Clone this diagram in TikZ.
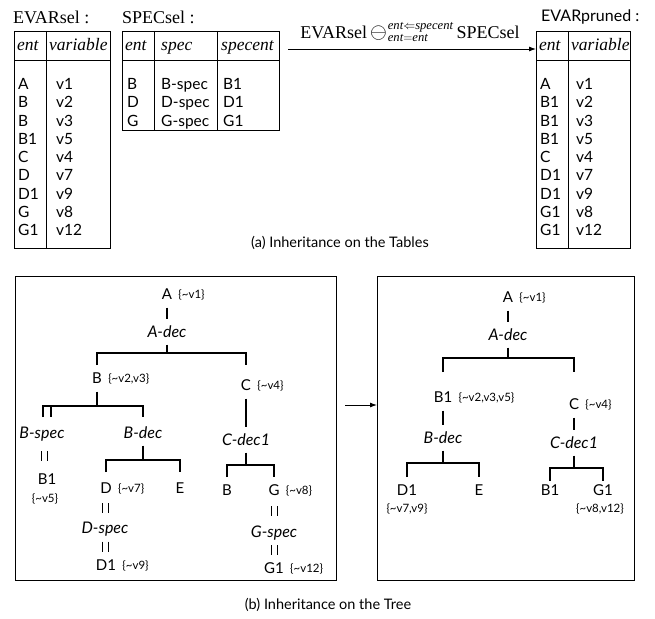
\documentclass[tikz,border=0pt]{standalone}
\usepackage{fontspec}
\setmainfont{Liberation Serif}
\newfontfamily\sansf{Lato}
\usetikzlibrary{arrows.meta,calc}
\newcommand\dbllink[2]{%
  \draw[thinln] ([xshift=-3pt]$(#1)!.5!(#2)$) ++(0,-5) -- ++(0,10);
  \draw[thinln] ([xshift=3pt]$(#1)!.5!(#2)$) ++(0,-5) -- ++(0,10);}
\begin{document}
\begin{tikzpicture}[x=1pt,y=-1pt,
  lbl/.style={font=\fontsize{18}{21}\selectfont, inner sep=0pt, anchor=west},
  lbls/.style={font=\sansf\fontsize{16}{19}\selectfont, inner sep=0pt, anchor=west},
  hd/.style={font=\fontsize{17.5}{20}\selectfont\itshape, inner sep=0pt, anchor=west, text height=10pt, text depth=0pt},
  cell/.style={font=\sansf\fontsize{15.5}{18}\selectfont, inner sep=0pt, anchor=west, text height=11pt, text depth=0pt},
  tbl/.style={draw, line width=1pt, inner sep=0pt, anchor=north west},
  rule/.style={line width=1pt},
  tn/.style={font=\sansf\fontsize{15}{18}\selectfont, inner xsep=2pt, inner ysep=8pt, text height=11pt, text depth=0pt},
  ti/.style={font=\sansf\itshape\fontsize{16}{19}\selectfont, inner xsep=2pt, inner ysep=7pt, text height=11pt, text depth=0pt},
  ts/.style={font=\sansf\fontsize{11.5}{13}\selectfont, inner sep=0pt, text height=8pt, text depth=0pt},
  ln/.style={line width=1.2pt},
  thinln/.style={line width=1pt},
  arr/.style={line width=0.9pt, -{Latex[length=7pt,width=5pt]}},
  capt/.style={font=\sansf\fontsize{14.5}{17}\selectfont, inner sep=0pt},
  box/.style={draw, line width=1.1pt, inner sep=0pt, anchor=north west}
]
\useasboundingbox (0,0) rectangle (655,618);

% ---------- (a) tables ----------
\node[lbl] (l1) at (13,17) {EVARsel :};
\node[lbl] (l2) at (122,17) {SPECsel :};
\node[lbls] (l3) at (541,17) {EVARpruned :};

% EVARsel
\node[tbl, minimum width=96pt, minimum height=217pt] (es) at (14,31) {};
\draw[rule] (46,31) -- (46,248);
\draw[rule] (14,60) -- (110,60);
\node[hd] (esh1) at (17,46) {ent};
\node[hd] (esh2) at (49,46) {variable};
\foreach \e/\v [count=\i from 0] in {A/v1,B/v2,B/v3,B1/v5,C/v4,D/v7,D1/v9,G/v8,G1/v12}{
  \node[cell] (ese\i) at (18,{84+18.25*\i}) {\e};
  \node[cell] (esv\i) at (56,{84+18.25*\i}) {\v};
}

% SPECsel
\node[tbl, minimum width=157pt, minimum height=99pt] (ss) at (122,31) {};
\draw[rule] (154,31) -- (154,130);
\draw[rule] (217,31) -- (217,130);
\draw[rule] (122,60) -- (279,60);
\node[hd] (ssh1) at (125,46) {ent};
\node[hd] (ssh2) at (161,46) {spec};
\node[hd] (ssh3) at (221,46) {specent};
\foreach \e/\s/\t [count=\i from 0] in {B/B-spec/B1,D/D-spec/D1,G/G-spec/G1}{
  \node[cell] (sse\i) at (127,{84+18.25*\i}) {\e};
  \node[cell] (sss\i) at (161,{84+18.25*\i}) {\s};
  \node[cell] (sst\i) at (223,{84+18.25*\i}) {\t};
}

% EVARpruned
\node[tbl, minimum width=94pt, minimum height=217pt] (ep) at (536,31) {};
\draw[rule] (568,31) -- (568,248);
\draw[rule] (536,60) -- (630,60);
\node[hd] (eph1) at (539,46) {ent};
\node[hd] (eph2) at (571,46) {variable};
\foreach \e/\v [count=\i from 0] in {A/v1,B1/v2,B1/v3,B1/v5,C/v4,D1/v7,D1/v9,G1/v8,G1/v12}{
  \node[cell] (epe\i) at (540,{84+18.25*\i}) {\e};
  \node[cell] (epv\i) at (576,{84+18.25*\i}) {\v};
}

% operation arrow
\coordinate (opS) at (288,49);
\draw[arr] (opS) -- (opS -| ep.west);
\node[font=\fontsize{18}{21}\selectfont, inner sep=0pt] (op) at (410,32)
  {EVARsel\,\raisebox{-0.5pt}{\scalebox{1.25}{$\ominus$}}\kern1pt$^{\mathit{ent}\Leftarrow\mathit{specent}}_{\mathit{ent}=\mathit{ent}}$\,SPECsel};

\node[capt] (capa) at (340,243) {(a) Inheritance on the Tables};

% ---------- (b) trees ----------
\node[box, minimum width=321pt, minimum height=304pt] (lbox) at (15,276) {};
\node[box, minimum width=257pt, minimum height=304pt] (rbox) at (377,276) {};
\coordinate (mA) at (345,405);
\draw[arr] (mA) -- (mA -| rbox.west);

% left tree
\node[tn] (LA) at (167,294) {A};
\node[ts, anchor=west] (LAs) at ([xshift=4pt]LA.east) {\{\textasciitilde v1\}};
\node[ti] (LAdec) at (167,332) {A-dec};
\draw[ln] (LA) -- (LAdec);
\coordinate (Lb1) at (167,353);
\draw[ln] (LAdec) -- (Lb1);
\node[tn] (LB) at (97,378) {B};
\node[ts, anchor=west] (LBs) at ([xshift=4pt]LB.east) {\{\textasciitilde v2,v3\}};
\node[tn] (LC) at (246,385) {C};
\node[ts, anchor=west] (LCs) at ([xshift=4pt]LC.east) {\{\textasciitilde v4\}};
\draw[ln] (LB |- Lb1) ++(0,12) -- (LB |- Lb1) -- (LC |- Lb1) -- ++(0,12);

\coordinate (LbB) at (97,406);
\draw[ln] (LB) -- (LbB);
\node[ti] (LBspec) at (42,433) {B-spec};
\node[ti] (LBdec) at (143,433) {B-dec};
\coordinate (LbBa) at (43,406);
\draw[ln] (LbBa) ++(0,11) -- (LbBa) -- (LBdec |- LbB) -- ++(0,11);
\coordinate (LbBs) at (51,406);
\draw[ln] (LbBs) -- ++(0,11);
\node[tn] (LB1) at (47,479) {B1};
\node[ts] (LB1s) at (45,498) {\{\textasciitilde v5\}};
\dbllink{LBspec}{LB1}

\coordinate (LbBd) at (143,460);
\draw[ln] (LBdec) -- (LbBd);
\node[tn] (LD) at (106,488) {D};
\node[ts, anchor=west] (LDs) at ([xshift=4pt]LD.east) {\{\textasciitilde v7\}};
\node[tn] (LE) at (180,488) {E};
\draw[ln] (LD |- LbBd) ++(0,12) -- (LD |- LbBd) -- (LE |- LbBd) -- ++(0,12);
\node[ti] (LDspec) at (105,528) {D-spec};
\node[tn] (LD1) at (106,565) {D1};
\node[ts, anchor=west] (LD1s) at ([xshift=4pt]LD1.east) {\{\textasciitilde v9\}};
\dbllink{LD}{LDspec}
\dbllink{LDspec}{LD1}

\node[ti] (LCdec) at (246,440) {C-dec1};
\draw[ln] (LC) -- (LCdec);
\coordinate (LbC) at (246,465);
\draw[ln] (LCdec) -- (LbC);
\node[tn] (LB2) at (227,490) {B};
\node[tn] (LG) at (274,490) {G};
\node[ts, anchor=west] (LGs) at ([xshift=4pt]LG.east) {\{\textasciitilde v8\}};
\draw[ln] (LB2 |- LbC) ++(0,12) -- (LB2 |- LbC) -- (LG |- LbC) -- ++(0,12);
\node[ti] (LGspec) at (274,532) {G-spec};
\node[tn] (LG1) at (274,568) {G1};
\node[ts, anchor=west] (LG1s) at ([xshift=4pt]LG1.east) {\{\textasciitilde v12\}};
\dbllink{LG}{LGspec}
\dbllink{LGspec}{LG1}

% right tree
\node[tn] (RA) at (508,297) {A};
\node[ts, anchor=west] (RAs) at ([xshift=4pt]RA.east) {\{\textasciitilde v1\}};
\node[ti] (RAdec) at (508,335) {A-dec};
\draw[ln] (RA) -- (RAdec);
\coordinate (Rb1) at (508,358);
\draw[ln] (RAdec) -- (Rb1);
\node[tn] (RB1) at (443,397) {B1};
\node[ts, anchor=west] (RB1s) at ([xshift=4pt]RB1.east) {\{\textasciitilde v2,v3,v5\}};
\node[tn] (RC) at (574,404) {C};
\node[ts, anchor=west] (RCs) at ([xshift=4pt]RC.east) {\{\textasciitilde v4\}};
\draw[ln] (RB1 |- Rb1) ++(0,14) -- (RB1 |- Rb1) -- (RC |- Rb1) -- ++(0,14);

\node[ti] (RBdec) at (443,438) {B-dec};
\draw[ln] (RB1) -- (RBdec);
\coordinate (RbB) at (443,463);
\draw[ln] (RBdec) -- (RbB);
\node[tn] (RD1) at (407,490) {D1};
\node[ts] (RD1s) at (407,508) {\{\textasciitilde v7,v9\}};
\node[tn] (RE) at (479,490) {E};
\draw[ln] (RD1 |- RbB) ++(0,14) -- (RD1 |- RbB) -- (RE |- RbB) -- ++(0,14);

\node[ti] (RCdec) at (574,443) {C-dec1};
\draw[ln] (RC) -- (RCdec);
\coordinate (RbC) at (574,468);
\draw[ln] (RCdec) -- (RbC);
\node[tn] (RB2) at (550,490) {B1};
\node[tn] (RG1) at (603,490) {G1};
\node[ts] (RG1s) at (600,508) {\{\textasciitilde v8,v12\}};
\draw[ln] (RB2 |- RbC) ++(0,13) -- (RB2 |- RbC) -- (RG1 |- RbC) -- ++(0,13);

\node[capt] (capb) at (328,605) {(b) Inheritance on the Tree};
\end{tikzpicture}
\end{document}
